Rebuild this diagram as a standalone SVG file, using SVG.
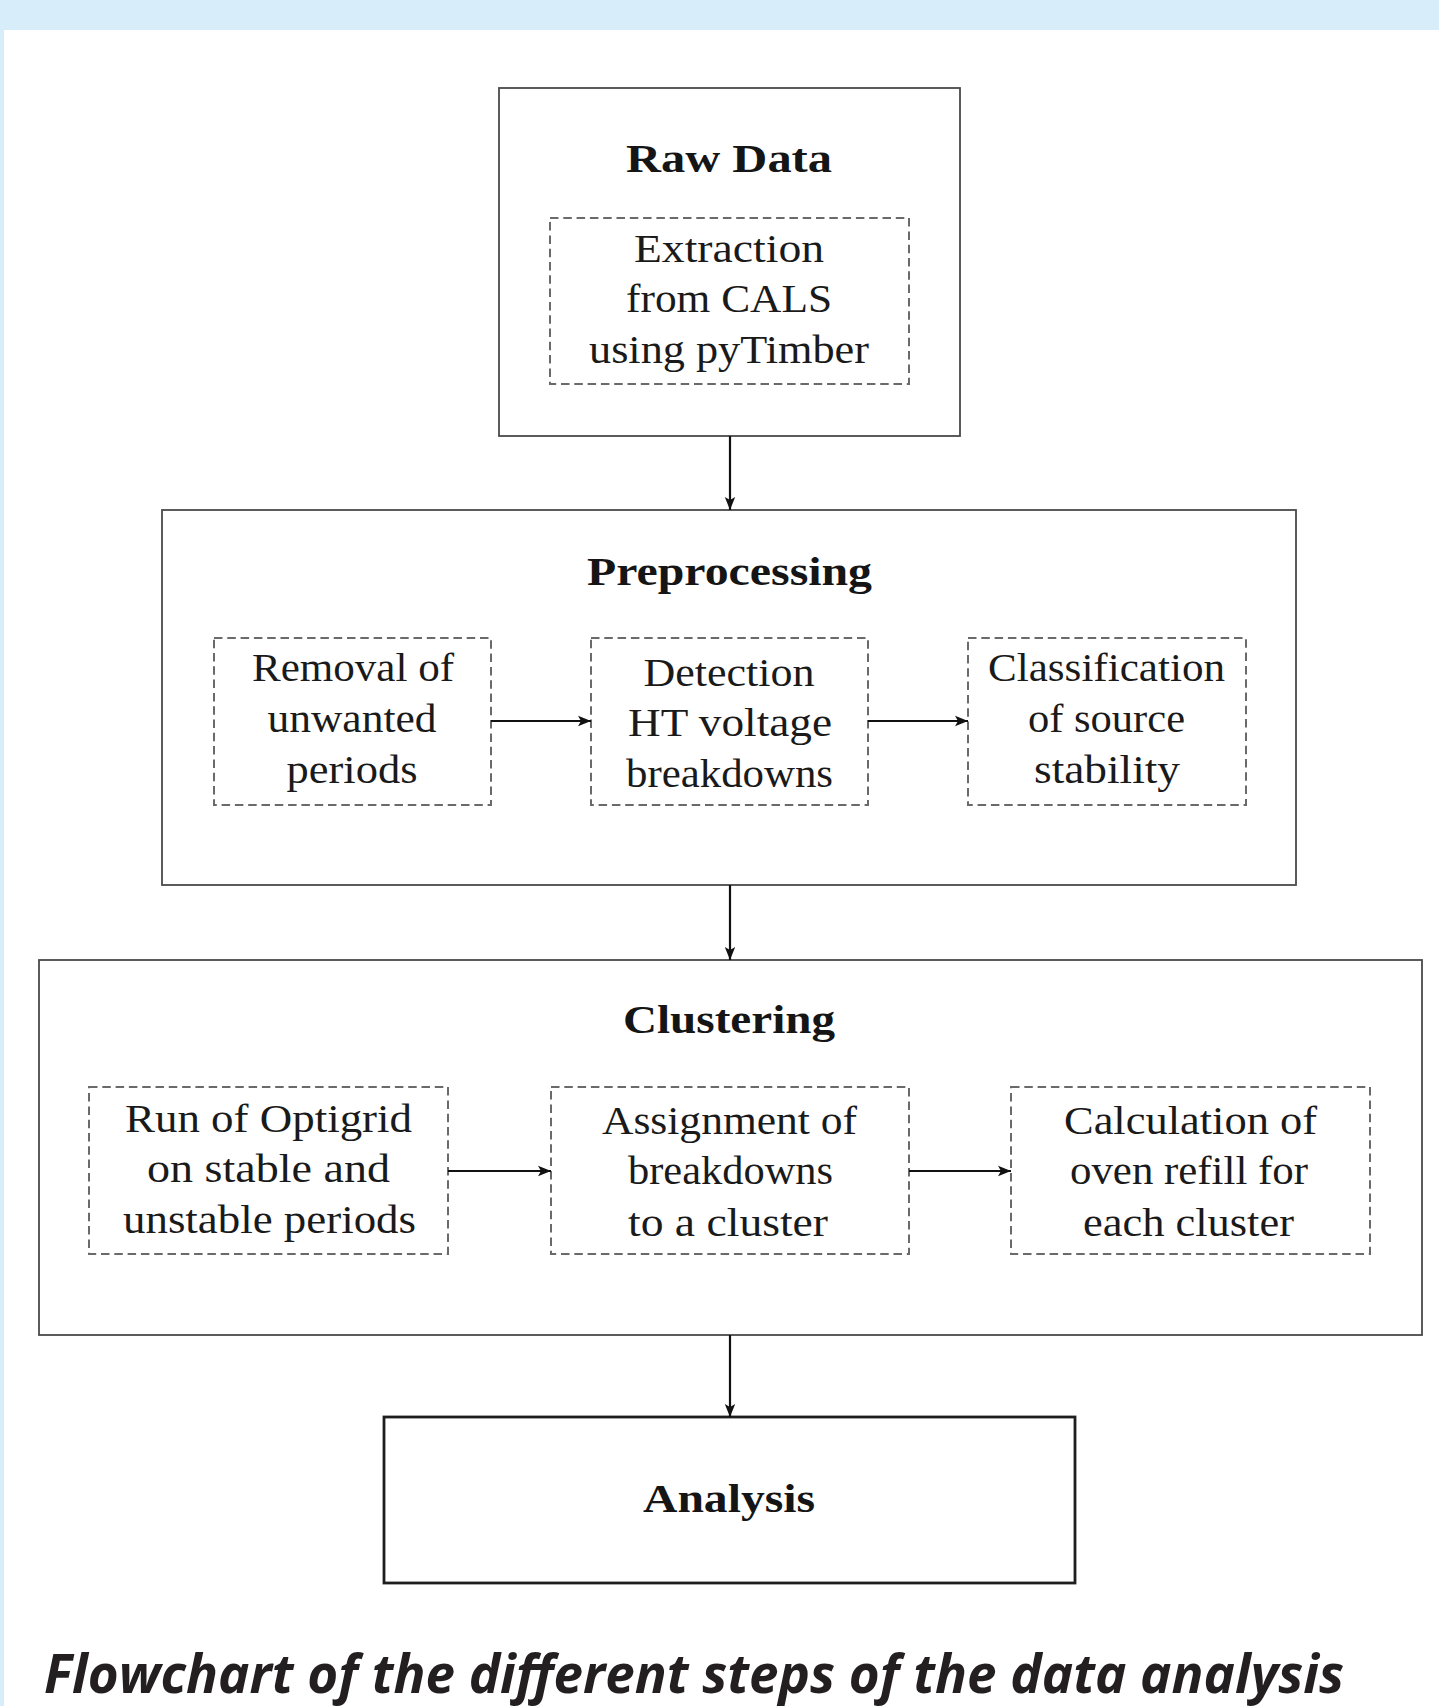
<svg xmlns="http://www.w3.org/2000/svg" width="1439" height="1706" viewBox="0 0 1439 1706">
<style>
  .outer { fill: #ffffff; stroke: #4a4a4a; stroke-width: 1.8; }
  .final { fill: #ffffff; stroke: #1e1e1e; stroke-width: 2.8; }
  .inner { fill: none; stroke: #6a6a6a; stroke-width: 2; stroke-dasharray: 8.5 4.8; }
  .title { font-family: "Liberation Serif", "DejaVu Serif", serif; font-weight: bold; font-size: 40px; fill: #151515; text-anchor: middle; }
  .body { font-family: "Liberation Serif", "DejaVu Serif", serif; font-size: 40px; fill: #1a1a1a; text-anchor: middle; }
  .caption { font-family: "Open Sans", "Liberation Sans", sans-serif; font-weight: bold; font-style: italic; font-size: 53px; fill: #231f20; }
  .conn { stroke: #111111; stroke-width: 2.2; fill: none; }
</style>
<defs>
  <marker id="arrow" markerUnits="userSpaceOnUse" markerWidth="14" markerHeight="12" refX="13" refY="6" orient="auto">
    <path d="M0,0.8 L13,6 L0,11.2 L3,6 Z" fill="#111111"/>
  </marker>
</defs>

<rect x="0" y="0" width="1439" height="1706" fill="#ffffff"/>
<rect x="0" y="0" width="1439" height="30" fill="#d7eefa"/>
<rect x="0" y="30" width="4" height="1676" fill="#d7eefa"/>

<g id="raw-data">
  <rect class="outer" x="499" y="88" width="461" height="348"/>
  <text class="title" x="729" y="172" textLength="206" lengthAdjust="spacingAndGlyphs">Raw Data</text>
  <g id="extraction">
    <rect class="inner" x="550" y="218" width="359" height="166"/>
    <text class="body" x="729" y="262" textLength="190" lengthAdjust="spacingAndGlyphs">Extraction</text>
    <text class="body" x="729" y="312" textLength="206" lengthAdjust="spacingAndGlyphs">from CALS</text>
    <text class="body" x="729" y="363" textLength="280" lengthAdjust="spacingAndGlyphs">using pyTimber</text>
  </g>
</g>

<g id="preprocessing">
  <rect class="outer" x="162" y="510" width="1134" height="375"/>
  <text class="title" x="729.5" y="585" textLength="285" lengthAdjust="spacingAndGlyphs">Preprocessing</text>
  <g id="removal">
    <rect class="inner" x="214" y="638" width="277" height="167"/>
    <text class="body" x="353" y="681" textLength="202" lengthAdjust="spacingAndGlyphs">Removal of</text>
    <text class="body" x="352" y="732" textLength="169" lengthAdjust="spacingAndGlyphs">unwanted</text>
    <text class="body" x="352" y="783" textLength="131" lengthAdjust="spacingAndGlyphs">periods</text>
  </g>
  <g id="detection">
    <rect class="inner" x="591" y="638" width="277" height="167"/>
    <text class="body" x="729" y="686" textLength="171" lengthAdjust="spacingAndGlyphs">Detection</text>
    <text class="body" x="730" y="736" textLength="204" lengthAdjust="spacingAndGlyphs">HT voltage</text>
    <text class="body" x="729.5" y="787" textLength="207" lengthAdjust="spacingAndGlyphs">breakdowns</text>
  </g>
  <g id="classification">
    <rect class="inner" x="968" y="638" width="278" height="167"/>
    <text class="body" x="1106.5" y="681" textLength="237" lengthAdjust="spacingAndGlyphs">Classification</text>
    <text class="body" x="1106.5" y="732" textLength="157" lengthAdjust="spacingAndGlyphs">of source</text>
    <text class="body" x="1107" y="783" textLength="146" lengthAdjust="spacingAndGlyphs">stability</text>
  </g>
</g>

<g id="clustering">
  <rect class="outer" x="39" y="960" width="1383" height="375"/>
  <text class="title" x="729" y="1033" textLength="212" lengthAdjust="spacingAndGlyphs">Clustering</text>
  <g id="optigrid">
    <rect class="inner" x="89" y="1087" width="359" height="167"/>
    <text class="body" x="268.5" y="1132" textLength="287" lengthAdjust="spacingAndGlyphs">Run of Optigrid</text>
    <text class="body" x="268.5" y="1182" textLength="243" lengthAdjust="spacingAndGlyphs">on stable and</text>
    <text class="body" x="269.5" y="1233" textLength="293" lengthAdjust="spacingAndGlyphs">unstable periods</text>
  </g>
  <g id="assignment">
    <rect class="inner" x="551" y="1087" width="358" height="167"/>
    <text class="body" x="729.5" y="1134" textLength="255" lengthAdjust="spacingAndGlyphs">Assignment of</text>
    <text class="body" x="730.5" y="1184" textLength="205" lengthAdjust="spacingAndGlyphs">breakdowns</text>
    <text class="body" x="728" y="1236" textLength="200" lengthAdjust="spacingAndGlyphs">to a cluster</text>
  </g>
  <g id="calculation">
    <rect class="inner" x="1011" y="1087" width="359" height="167"/>
    <text class="body" x="1190.5" y="1134" textLength="253" lengthAdjust="spacingAndGlyphs">Calculation of</text>
    <text class="body" x="1189" y="1184" textLength="238" lengthAdjust="spacingAndGlyphs">oven refill for</text>
    <text class="body" x="1188.5" y="1236" textLength="211" lengthAdjust="spacingAndGlyphs">each cluster</text>
  </g>
</g>

<g id="analysis">
  <rect class="final" x="384" y="1417" width="691" height="166"/>
  <text class="title" x="729" y="1512" textLength="172" lengthAdjust="spacingAndGlyphs">Analysis</text>
</g>

<g id="connectors">
  <line class="conn" x1="730" y1="436" x2="730" y2="510" marker-end="url(#arrow)"/>
  <line class="conn" x1="730" y1="885" x2="730" y2="960" marker-end="url(#arrow)"/>
  <line class="conn" x1="730" y1="1335" x2="730" y2="1417" marker-end="url(#arrow)"/>
  <line class="conn" x1="491" y1="721" x2="591" y2="721" marker-end="url(#arrow)"/>
  <line class="conn" x1="868" y1="721" x2="968" y2="721" marker-end="url(#arrow)"/>
  <line class="conn" x1="448" y1="1171" x2="551" y2="1171" marker-end="url(#arrow)"/>
  <line class="conn" x1="909" y1="1171" x2="1011" y2="1171" marker-end="url(#arrow)"/>
</g>

<text class="caption" x="44" y="1693" textLength="1300" lengthAdjust="spacingAndGlyphs">Flowchart of the different steps of the data analysis</text>
</svg>
